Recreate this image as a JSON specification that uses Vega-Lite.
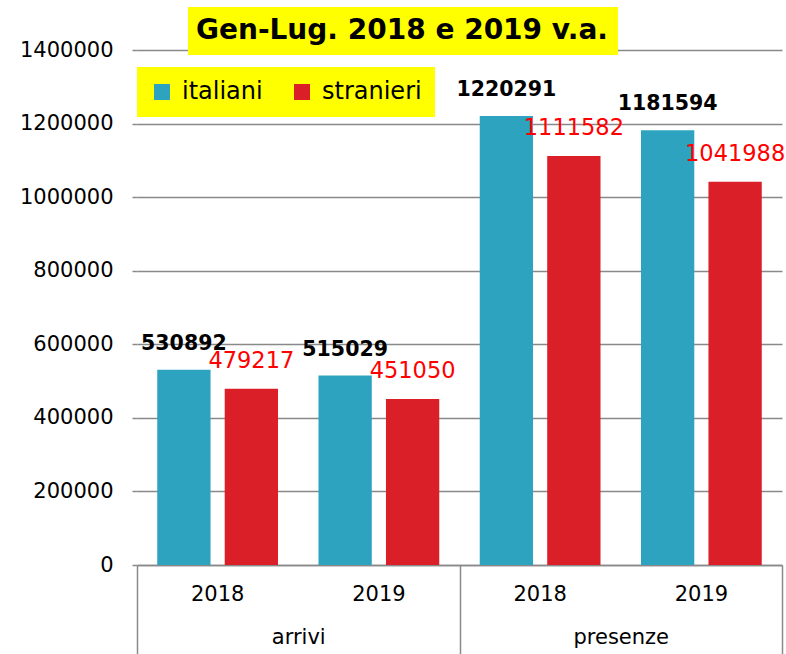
{
  "$schema": "https://vega.github.io/schema/vega-lite/v6.json",
  "width": 645,
  "height": 515,
  "autosize": "none",
  "padding": {"left": 137, "top": 50, "right": 4, "bottom": 89},
  "background": "white",
  "config": {"view": {"stroke": null}, "font": "DejaVu Sans"},
  "data": {
    "values": [
      {"gruppo": "arrivi", "anno": "2018", "slot": "arrivi 2018", "serie": "italiani", "valore": 530892},
      {"gruppo": "arrivi", "anno": "2018", "slot": "arrivi 2018", "serie": "stranieri", "valore": 479217},
      {"gruppo": "arrivi", "anno": "2019", "slot": "arrivi 2019", "serie": "italiani", "valore": 515029},
      {"gruppo": "arrivi", "anno": "2019", "slot": "arrivi 2019", "serie": "stranieri", "valore": 451050},
      {"gruppo": "presenze", "anno": "2018", "slot": "presenze 2018", "serie": "italiani", "valore": 1220291},
      {"gruppo": "presenze", "anno": "2018", "slot": "presenze 2018", "serie": "stranieri", "valore": 1111582},
      {"gruppo": "presenze", "anno": "2019", "slot": "presenze 2019", "serie": "italiani", "valore": 1181594},
      {"gruppo": "presenze", "anno": "2019", "slot": "presenze 2019", "serie": "stranieri", "valore": 1041988}
    ]
  },
  "layer": [
    {
      "layer": [
        {
          "mark": {"type": "bar"},
          "encoding": {
            "x": {
              "field": "slot", "type": "nominal", "sort": null,
              "scale": {"paddingInner": 0, "paddingOuter": 0},
              "axis": {"title": null, "labelExpr": "split(datum.label, ' ')[1]", "labelAngle": 0, "ticks": false, "tickSize": 0, "labelPadding": 18, "labelFontSize": 21, "labelColor": "black", "domainColor": "#898989", "domainWidth": 1.5, "grid": false}
            },
            "xOffset": {
              "field": "serie", "type": "nominal", "sort": ["italiani", "stranieri"],
              "scale": {"paddingInner": 0.21, "paddingOuter": 0.3}
            },
            "y": {
              "field": "valore", "type": "quantitative",
              "scale": {"domain": [0, 1400000], "nice": false},
              "axis": {"title": null, "values": [0, 200000, 400000, 600000, 800000, 1000000, 1200000, 1400000], "format": "d", "domain": false, "ticks": true, "tickSize": 5, "tickColor": "#898989", "tickWidth": 1.5, "grid": true, "gridColor": "#898989", "gridWidth": 1.5, "labelFontSize": 21, "labelPadding": 19, "labelColor": "black"}
            },
            "color": {
              "field": "serie", "type": "nominal",
              "scale": {"domain": ["italiani", "stranieri"], "range": ["#2EA3BF", "#DA1F29"]},
              "legend": {"orient": "none", "legendX": 0, "legendY": 17, "direction": "horizontal", "title": null, "fillColor": "#FFFF00", "padding": 13, "symbolType": "square", "symbolSize": 256, "symbolStrokeWidth": 0, "symbolOpacity": 1, "labelFontSize": 24, "labelColor": "black", "labelOffset": 8, "columnPadding": 27}
            }
          }
        },
        {
          "transform": [{"filter": "datum.serie === 'italiani'"}],
          "mark": {"type": "text", "baseline": "bottom", "dy": -16, "fontSize": 20.5, "fontWeight": "bold", "color": "black"},
          "encoding": {
            "x": {"field": "slot", "type": "nominal", "sort": null},
            "xOffset": {"field": "serie", "type": "nominal", "sort": ["italiani", "stranieri"]},
            "y": {"field": "valore", "type": "quantitative"},
            "text": {"field": "valore", "type": "quantitative", "format": "d"}
          }
        },
        {
          "transform": [{"filter": "datum.serie === 'stranieri'"}],
          "mark": {"type": "text", "baseline": "bottom", "dy": -16, "fontSize": 22.5, "color": "#FF0000"},
          "encoding": {
            "x": {"field": "slot", "type": "nominal", "sort": null},
            "xOffset": {"field": "serie", "type": "nominal", "sort": ["italiani", "stranieri"]},
            "y": {"field": "valore", "type": "quantitative"},
            "text": {"field": "valore", "type": "quantitative", "format": "d"}
          }
        }
      ]
    },
    {
      "mark": {"type": "point", "opacity": 0, "filled": true},
      "encoding": {
        "x": {
          "field": "gruppo", "type": "nominal", "sort": null,
          "scale": {"type": "band", "paddingInner": 0, "paddingOuter": 0},
          "axis": {"orient": "bottom", "title": null, "labelAngle": 0, "tickBand": "extent", "tickSize": 89, "tickColor": "#898989", "tickWidth": 1.5, "domain": false, "labelPadding": -28, "labelFontSize": 21, "labelColor": "black", "grid": false}
        },
        "y": {"field": "valore", "type": "quantitative"},
        "shape": {
          "datum": "Gen-Lug. 2018 e 2019 v.a.",
          "legend": {"orient": "none", "legendX": 51, "legendY": -43, "title": null, "fillColor": "#FFFF00", "padding": 10, "symbolSize": 0, "symbolOpacity": 0, "labelOffset": -30, "labelFont": "DejaVu Sans", "labelFontWeight": "bold", "labelFontSize": 28, "labelColor": "black", "labelLimit": 1000}
        }
      }
    }
  ],
  "resolve": {"scale": {"x": "independent"}}
}
